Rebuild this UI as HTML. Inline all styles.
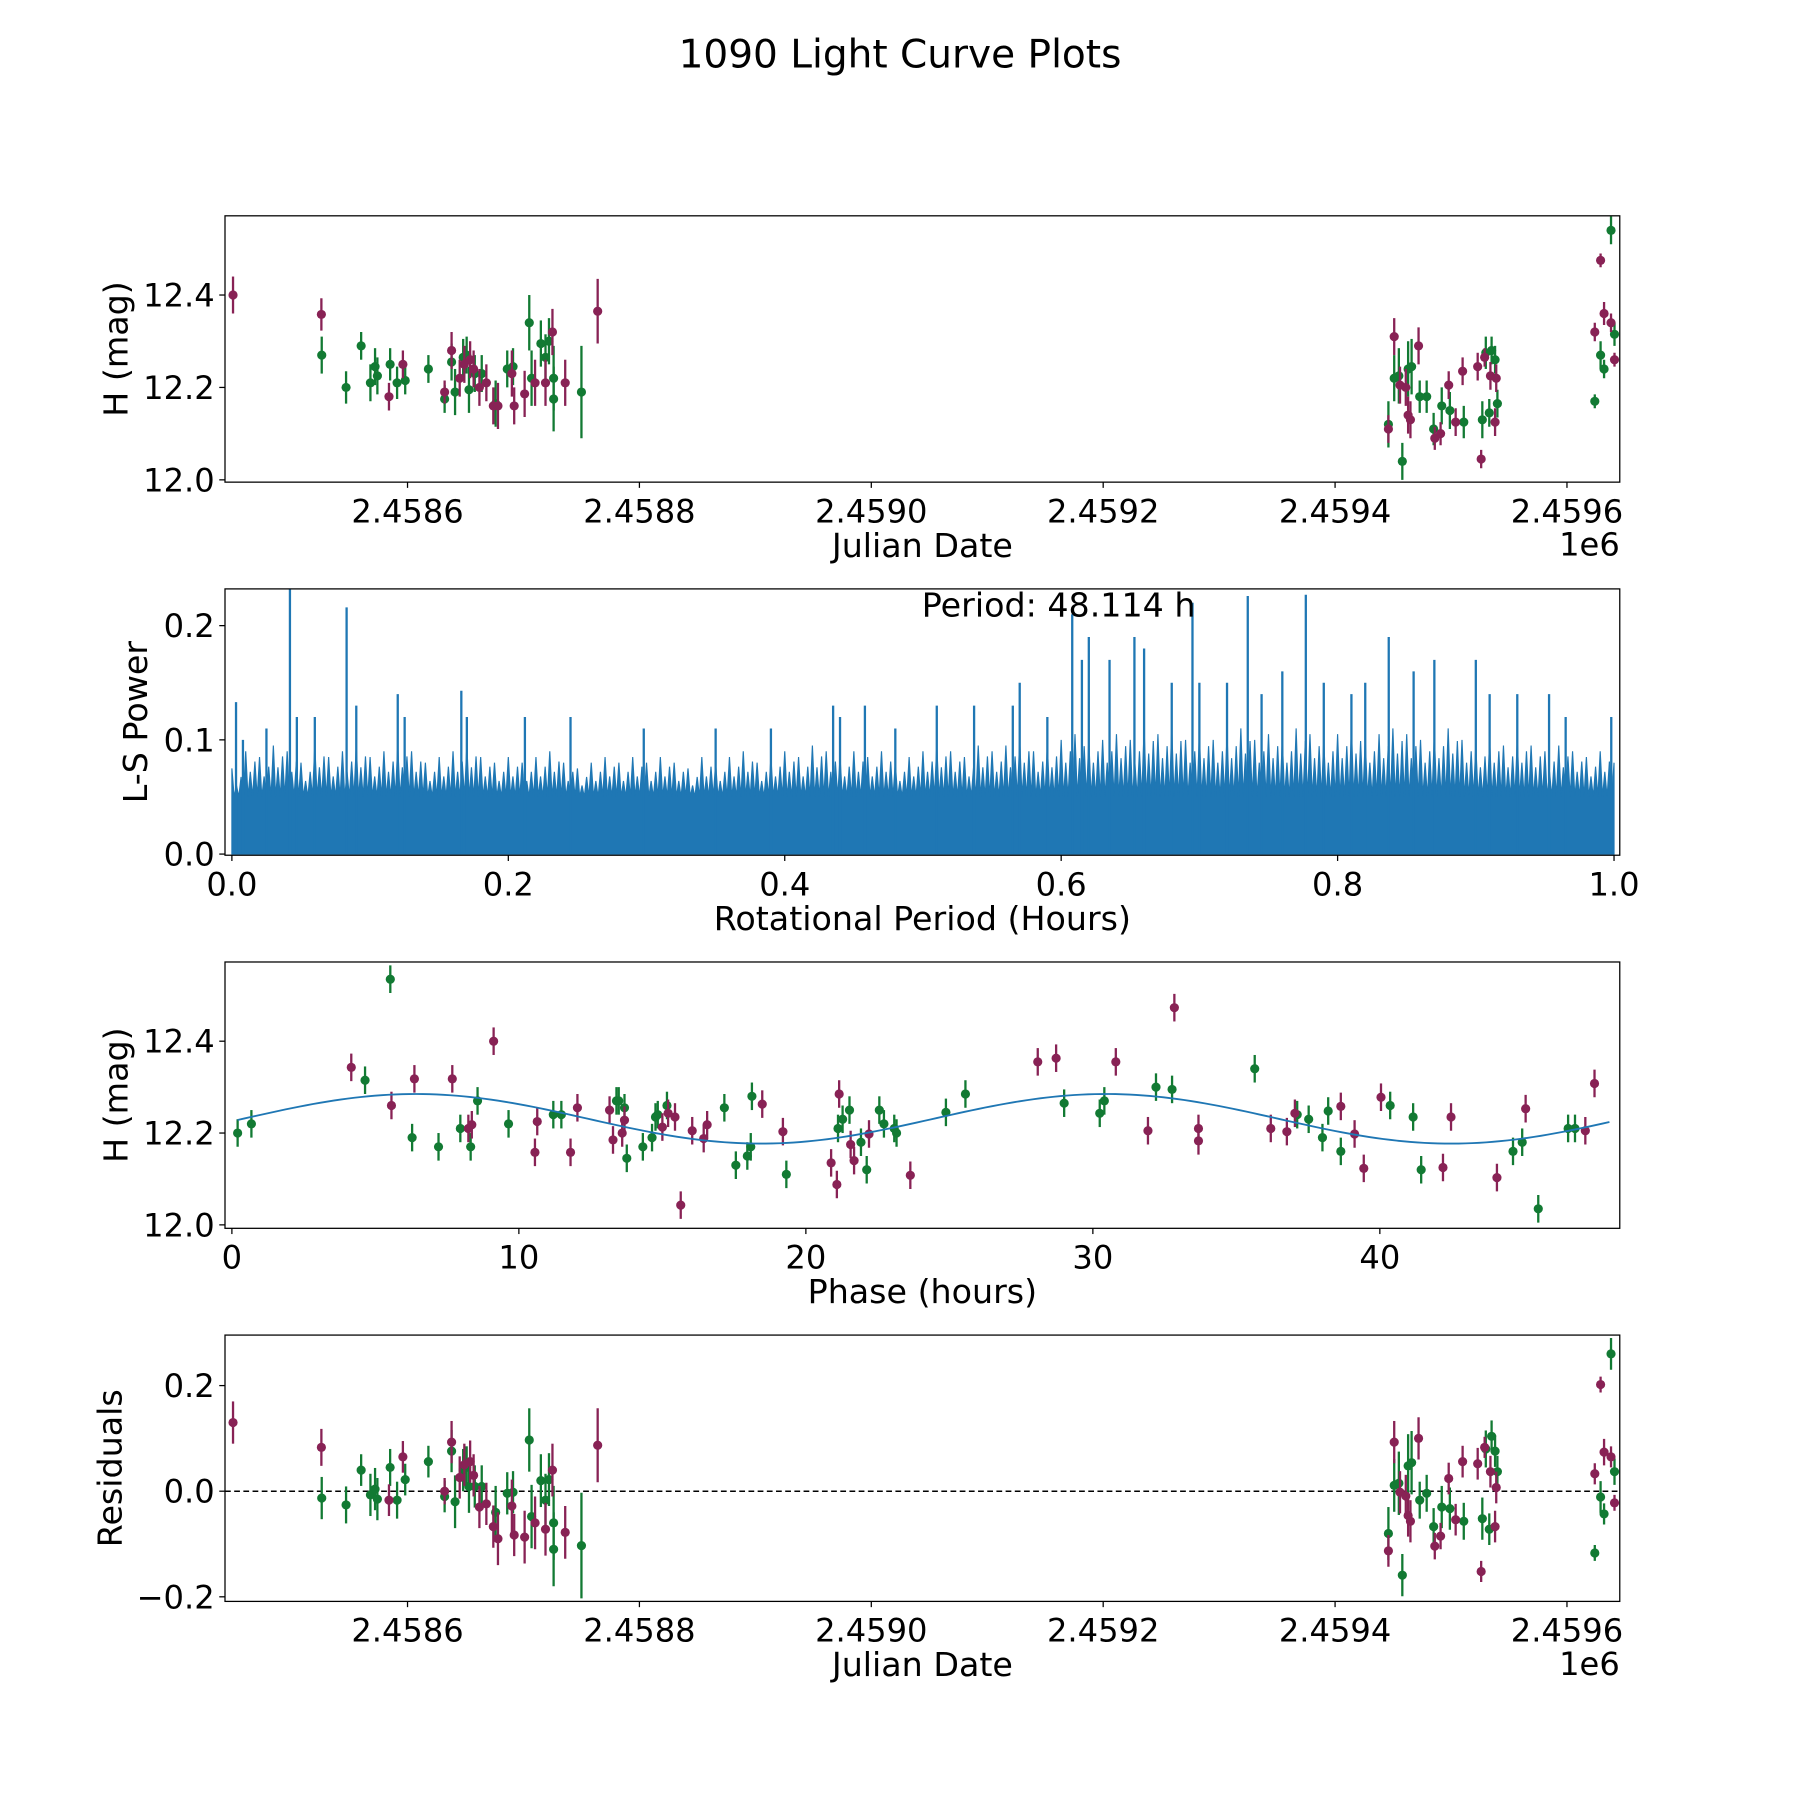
<!DOCTYPE html>
<html><head><meta charset="utf-8"><style>
html,body{margin:0;padding:0;background:#fff}
svg{display:block;font-family:"DejaVu Sans","Liberation Sans",sans-serif}
</style></head><body>
<svg id="fig" xmlns="http://www.w3.org/2000/svg" width="1800" height="1800" viewBox="0 0 1568 1568">
<rect width="1568" height="1568" fill="#fff"/>
<text x="784" y="59" font-size="34" text-anchor="middle">1090 Light Curve Plots</text>
</svg>
<script>
// ---------- DATA ----------
const magJD = [2458449.5,2458525.7,2458584,2458596,2458632,2458638,2458645,2458649,2458654,2458657,2458662,2458668,2458674,2458678,2458690,2458692,2458701,2458710,2458719,2458725,2458736,2458764,
2459446,2459451,2459456,2459461,2459463,2459465,2459472,2459486,2459491,2459498,2459504,2459510,2459523,2459526,2459529,2459534,2459538,2459539,2459624,2459629,2459632,2459638,2459641];
const magH = [12.40,12.358,12.18,12.25,12.19,12.28,12.22,12.25,12.26,12.24,12.20,12.21,12.16,12.16,12.23,12.16,12.186,12.21,12.21,12.32,12.21,12.365,
12.11,12.31,12.205,12.20,12.14,12.13,12.29,12.09,12.10,12.205,12.125,12.235,12.245,12.045,12.265,12.225,12.125,12.22,12.32,12.475,12.36,12.34,12.26];
const magErr = [0.04,0.035,0.03,0.03,0.025,0.04,0.04,0.04,0.04,0.04,0.04,0.04,0.04,0.05,0.05,0.04,0.05,0.05,0.05,0.05,0.05,0.07,
0.03,0.04,0.04,0.04,0.04,0.04,0.04,0.025,0.025,0.03,0.03,0.03,0.03,0.02,0.02,0.03,0.03,0.03,0.02,0.015,0.025,0.02,0.015];
const magRes = [0.13,0.083,-0.017,0.065,0.0,0.093,0.026,0.05,0.056,0.03,-0.03,-0.024,-0.067,-0.09,-0.028,-0.083,-0.087,-0.06,-0.072,0.04,-0.078,0.087,
-0.113,0.093,-0.002,-0.009,-0.046,-0.057,0.1,-0.104,-0.085,0.024,-0.054,0.056,0.052,-0.152,0.083,0.037,-0.067,0.007,0.033,0.202,0.074,0.065,-0.022];

const grnJD = [2458526,2458547,2458560,2458568,2458572,2458574,2458585,2458591,2458598,2458618,2458632,2458638,2458641,2458648,2458651,2458653,2458658,2458664,2458676,2458686,2458691,2458705,2458707,2458715,2458719,2458722,2458726,2458726,2458750,
2459446,2459451,2459455,2459458,2459463,2459466,2459473,2459479,2459485,2459492,2459499,2459511,2459527,2459530,2459533,2459535,2459538,2459540,2459624,2459629,2459632,2459638,2459641];
const grnH = [12.27,12.20,12.29,12.21,12.245,12.225,12.25,12.21,12.215,12.24,12.175,12.255,12.19,12.265,12.27,12.195,12.23,12.23,12.165,12.24,12.245,12.34,12.22,12.295,12.265,12.30,12.22,12.175,12.19,
12.12,12.22,12.225,12.04,12.24,12.245,12.18,12.18,12.11,12.16,12.15,12.125,12.13,12.275,12.145,12.28,12.26,12.165,12.17,12.27,12.24,12.54,12.315];
const grnErr = [0.04,0.035,0.03,0.04,0.04,0.04,0.035,0.035,0.03,0.03,0.03,0.04,0.05,0.04,0.04,0.05,0.04,0.04,0.05,0.04,0.04,0.06,0.06,0.05,0.05,0.05,0.07,0.07,0.1,
0.05,0.05,0.06,0.04,0.06,0.06,0.035,0.035,0.035,0.04,0.04,0.035,0.04,0.035,0.03,0.03,0.03,0.03,0.015,0.03,0.02,0.03,0.025];
const grnRes = [-0.013,-0.026,0.04,-0.007,0.004,-0.015,0.045,-0.017,0.022,0.056,-0.01,0.076,-0.02,0.04,0.045,0.009,0.009,0.009,-0.04,-0.004,-0.002,0.097,-0.048,0.02,-0.017,0.022,-0.06,-0.11,-0.103,
-0.08,0.011,0.015,-0.159,0.048,0.054,-0.017,-0.004,-0.067,-0.03,-0.033,-0.057,-0.052,0.08,-0.072,0.104,0.076,0.037,-0.117,-0.011,-0.043,0.26,0.037];

const phGrn = [0.2,0.68,4.64,6.28,7.2,7.96,8.32,8.56,9.64,11.2,11.48,13.4,13.48,13.68,13.76,14.32,14.64,14.76,14.84,15.16,17.16,17.56,17.96,18.08,18.12,19.32,21.12,21.28,21.52,21.92,22.12,22.56,22.72,23.08,23.16,24.88,25.56,29.0,30.24,30.4,32.2,32.76,35.64,37.12,37.52,38.0,38.2,38.64,40.36,41.16,41.44,44.64,44.96,45.52,46.56,46.8,5.52];
const phGrnH = [12.20,12.22,12.315,12.19,12.17,12.21,12.17,12.27,12.22,12.24,12.24,12.27,12.27,12.255,12.145,12.17,12.19,12.235,12.24,12.26,12.255,12.13,12.15,12.17,12.28,12.11,12.21,12.23,12.25,12.18,12.12,12.25,12.22,12.21,12.2,12.245,12.285,12.265,12.243,12.27,12.3,12.295,12.34,12.24,12.23,12.19,12.248,12.16,12.26,12.235,12.12,12.16,12.18,12.035,12.21,12.21,12.535];
const phMag = [4.16,5.56,6.36,7.68,8.24,8.36,9.12,10.56,10.64,11.8,12.04,13.16,13.28,13.6,13.68,15.0,15.2,15.44,15.64,16.04,16.44,16.56,18.48,19.2,20.88,21.08,21.16,21.56,21.68,22.2,23.64,28.08,28.72,30.8,31.92,32.84,33.68,33.68,36.2,36.76,37.04,38.64,39.12,39.44,40.04,42.2,42.48,44.08,45.08,47.16,47.48];
const phMagH = [12.343,12.26,12.318,12.318,12.21,12.218,12.40,12.158,12.225,12.158,12.255,12.25,12.185,12.2,12.228,12.213,12.243,12.235,12.043,12.205,12.188,12.218,12.263,12.203,12.135,12.088,12.285,12.175,12.14,12.198,12.108,12.355,12.363,12.355,12.205,12.473,12.21,12.183,12.21,12.203,12.243,12.258,12.198,12.123,12.278,12.125,12.235,12.103,12.253,12.205,12.308];
const modelParams = [12.231, 0.054, 6.4, 24.057]; // mean, amplitude, peak phase, half period (h)

// periodogram: dense envelope every 0.01 h and prominent peaks
const lsEnvelope = [0.075,0.09,0.085,0.095,0.09,0.08,0.095,0.085,0.09,0.095,0.085,0.09,0.095,0.09,0.08,0.085,0.09,0.095,0.085,0.08,0.085,0.08,0.085,0.09,0.08,0.075,0.08,0.085,0.08,0.085,0.08,0.085,0.08,0.075,0.085,0.08,0.085,0.09,0.08,0.085,0.09,0.085,0.095,0.09,0.085,0.09,0.085,0.09,0.08,0.085,0.09,0.095,0.09,0.085,0.095,0.09,0.095,0.1,0.09,0.095,0.1,0.105,0.1,0.1,0.105,0.1,0.11,0.105,0.11,0.1,0.105,0.1,0.105,0.11,0.1,0.105,0.1,0.11,0.105,0.1,0.105,0.11,0.1,0.105,0.11,0.105,0.1,0.105,0.11,0.1,0.095,0.1,0.095,0.1,0.095,0.09,0.095,0.09,0.085,0.09,0.085];
const lsBase = 0.05;
const peakPeriod = [0.003,0.008,0.025,0.042,0.047,0.06,0.083,0.09,0.12,0.125,0.166,0.17,0.212,0.245,0.298,0.35,0.39,0.435,0.44,0.458,0.48,0.51,0.537,0.565,0.57,0.59,0.608,0.615,0.62,0.635,0.653,0.66,0.68,0.695,0.7,0.72,0.735,0.745,0.76,0.777,0.79,0.81,0.82,0.837,0.855,0.87,0.9,0.91,0.93,0.953,0.965,0.998];
const peakPower = [0.133,0.10,0.11,0.232,0.12,0.12,0.216,0.13,0.14,0.12,0.143,0.12,0.12,0.12,0.11,0.11,0.11,0.13,0.12,0.13,0.11,0.13,0.13,0.13,0.15,0.12,0.21,0.17,0.19,0.17,0.19,0.18,0.15,0.22,0.15,0.15,0.226,0.14,0.16,0.227,0.15,0.14,0.15,0.19,0.16,0.17,0.17,0.14,0.14,0.14,0.12,0.12];

const jdTicks = [2458600,2458800,2459000,2459200,2459400,2459600];
const jdTickLabels = ["2.4586","2.4588","2.4590","2.4592","2.4594","2.4596"];
const magTicks = [12.0,12.2,12.4];
const magTickLabels = ["12.0","12.2","12.4"];
const lsXTicks = [0,0.2,0.4,0.6,0.8,1.0];
const lsXLabels = ["0.0","0.2","0.4","0.6","0.8","1.0"];
const lsYTicks = [0,0.1,0.2];
const lsYLabels = ["0.0","0.1","0.2"];
const phTicks = [0,10,20,30,40];
const phLabels = ["0","10","20","30","40"];
const resTicks = [-0.2,0,0.2];
const resLabels = ["\u22120.2","0.0","0.2"];

// ---------- DRAW ----------
const NS="http://www.w3.org/2000/svg";
const svg=document.getElementById('fig');
const GREEN="#127a33", MAG="#882255", BLUE="#1f77b4";
const TICKFS=28, LABFS=29;
function el(tag,attrs,parent){const e=document.createElementNS(NS,tag);for(const k in attrs)e.setAttribute(k,attrs[k]);(parent||svg).appendChild(e);return e;}
function lin(d0,d1,r0,r1){return v=>r0+(v-d0)*(r1-r0)/(d1-d0);}
const L=196,R=1411;
function panel(name,top,bot,xs,ys,xt,xl,yt,yl,xlabel,ylabel,ylabelX){
  const g=el('g',{});
  
  
  const ax=el('g',{},g);
  
  
  xt.forEach((t,i)=>{const x=xs(t);
    el('line',{x1:x,x2:x,y1:bot,y2:bot+5,stroke:'#000','stroke-width':1.1},ax);
    const tx=el('text',{x:x,y:bot+35,'font-size':TICKFS,'text-anchor':'middle'},ax);tx.textContent=xl[i];
    
    });
  const xlb=el('text',{x:(L+R)/2,y:bot+65,'font-size':LABFS,'text-anchor':'middle'},ax);xlb.textContent=xlabel;
  
  
  const ay=el('g',{},g);
  
  
  yt.forEach((t,i)=>{const y=ys(t);
    el('line',{x1:L-5,x2:L,y1:y,y2:y,stroke:'#000','stroke-width':1.1},ay);
    const tx=el('text',{x:L-9,y:y+10,'font-size':TICKFS,'text-anchor':'end'},ay);tx.textContent=yl[i];
    
    });
  const cy=(top+bot)/2;
  const ylb=el('text',{x:ylabelX,y:cy,'font-size':LABFS,'text-anchor':'middle',transform:`rotate(-90 ${ylabelX} ${cy})`},ay);ylb.textContent=ylabel;
  
  
  const clip=el('clipPath',{id:'c'+name},g);el('rect',{x:L,y:top,width:R-L,height:bot-top},clip);
  const plot=el('g',{'clip-path':`url(#c${name})`},g);
  const fr=el('rect',{x:L,y:top,width:R-L,height:bot-top,fill:'none',stroke:'#000','stroke-width':1.1},g);
  
  
  return plot;
}
function errpts(parent,xsArr,ysArr,errArr,xs,ys,color,label){
  xsArr.forEach((v,i)=>{const x=xs(v),y=ys(ysArr[i]);const e=errArr?errArr[i]:0.03;
    const pt=el('g',{},parent);
    
    
    el('line',{x1:x,x2:x,y1:ys(ysArr[i]-e),y2:ys(ysArr[i]+e),stroke:color,'stroke-width':2},pt);
    el('circle',{cx:x,cy:y,r:4,fill:color},pt);});
}
// Panel 1
let xs1=lin(2458600,2458800,355,557), ys1=lin(12.0,12.4,418,257);
let p1=panel('lightcurve-panel',188,420,xs1,ys1,jdTicks,jdTickLabels,magTicks,magTickLabels,'Julian Date','H (mag)',111);
errpts(p1,grnJD,grnH,grnErr,xs1,ys1,GREEN,'green-point');
errpts(p1,magJD,magH,magErr,xs1,ys1,MAG,'magenta-point');
let e1=el('text',{x:R,y:484,'font-size':TICKFS,'text-anchor':'end'});e1.textContent='1e6';


// Panel 2
let xs2=lin(0,1,202,1406), ys2=lin(0,0.2,744,545);
let p2=panel('periodogram-panel',513,745,xs2,ys2,lsXTicks,lsXLabels,lsYTicks,lsYLabels,'Rotational Period (Hours)','L-S Power',128);
let d=`M${xs2(0)},${ys2(0)}`;
const step=1/(lsEnvelope.length-1);
lsEnvelope.forEach((v,i)=>{if(i==lsEnvelope.length-1)return;const x0=xs2(i*step);
  d+=` L${x0},${ys2(v)} L${x0+2},${ys2(lsBase)} L${x0+4},${ys2(v*0.8)} L${x0+6},${ys2(lsBase)} L${x0+8},${ys2(v*0.9)} L${x0+10},${ys2(lsBase)}`;});
d+=` L${xs2(1)},${ys2(0.08)} L${xs2(1)},${ys2(0)} Z`;
const area=el('path',{d:d,fill:BLUE,stroke:BLUE,'stroke-width':1},p2);


peakPeriod.forEach((p,i)=>{const x=xs2(p);const ln=el('line',{x1:x,x2:x,y1:ys2(0),y2:ys2(peakPower[i]),stroke:BLUE,'stroke-width':2},p2);
  
  });
let pt=el('text',{x:803,y:537,'font-size':LABFS});pt.textContent='Period: 48.114 h';


// Panel 3
let xs3=lin(0,40,202,1202), ys3=lin(12.0,12.4,1067,907);
let p3=panel('phase-panel',838,1070,xs3,ys3,phTicks,phLabels,magTicks,magTickLabels,'Phase (hours)','H (mag)',111);
errpts(p3,phGrn,phGrnH,null,xs3,ys3,GREEN,'green-phase-point');
errpts(p3,phMag,phMagH,null,xs3,ys3,MAG,'magenta-phase-point');
let md='';for(let i=0;i<=200;i++){const p=0.2+i*(48.0-0.2)/200;const m=modelParams[0]+modelParams[1]*Math.cos(2*Math.PI*(p-modelParams[2])/modelParams[3]);md+=(i?' L':'M')+xs3(p)+','+ys3(m);}
const mc=el('path',{d:md,fill:'none',stroke:BLUE,'stroke-width':1.6},p3);


// Panel 4
let ys4=lin(0,0.2,1299,1207);
let p4=panel('residuals-panel',1163,1395,xs1,ys4,jdTicks,jdTickLabels,resTicks,resLabels,'Julian Date','Residuals',106);
const zl=el('line',{x1:L,x2:R,y1:ys4(0),y2:ys4(0),stroke:'#000','stroke-width':1.3,'stroke-dasharray':'5,3'},p4);


errpts(p4,grnJD,grnRes,grnErr,xs1,ys4,GREEN,'green-residual');
errpts(p4,magJD,magRes,magErr,xs1,ys4,MAG,'magenta-residual');
let e2=el('text',{x:R,y:1459,'font-size':TICKFS,'text-anchor':'end'});e2.textContent='1e6';


</script>
</body></html>
